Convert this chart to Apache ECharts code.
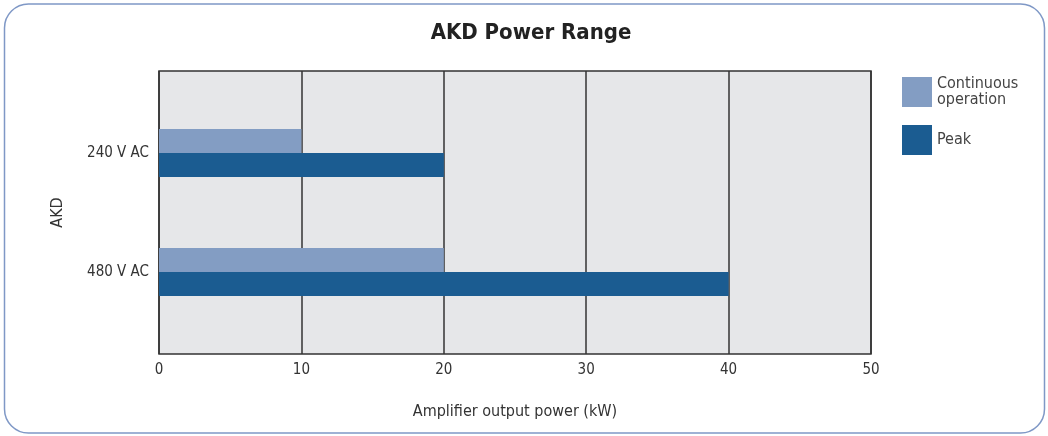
<!DOCTYPE html>
<html><head><meta charset="utf-8">
<script src="https://cdn.jsdelivr.net/npm/echarts@6/dist/echarts.min.js"></script>
<style>html,body{margin:0;padding:0;background:#fff}#c{width:1048px;height:436px}</style>
</head><body><div id="c"></div>
<script>
var categories = ['240 V AC', '480 V AC'];
var continuousValues = [10, 20];
var peakValues = [20, 40];
var xTicks = [0, 10, 20, 30, 40, 50];
var seriesNames = ['Continuous operation', 'Peak'];

var FONT = "'Liberation Sans Narrow', 'DejaVu Sans Condensed', 'Roboto', sans-serif";
var chart = echarts.init(document.getElementById('c'), null, {renderer: 'canvas'});
chart.setOption({
  animation: false,
  textStyle: {fontFamily: FONT},
  title: {
    text: 'AKD Power Range', left: 526, top: 17, textAlign: 'center',
    textStyle: {fontSize: 22, fontWeight: 'bold', color: '#222', fontFamily: FONT}
  },
  graphic: [{
    type: 'rect', z: -10, silent: true,
    shape: {x: 4.5, y: 4, width: 1040, height: 429, r: 24},
    style: {fill: 'none', stroke: '#7f98c6', lineWidth: 1.5}
  }],
  legend: {
    orient: 'vertical', left: 897, top: 71, itemWidth: 30, itemHeight: 30, itemGap: 17,
    icon: 'rect',
    data: seriesNames,
    formatter: function (n) { return n === 'Continuous operation' ? 'Continuous\noperation' : n; },
    textStyle: {fontSize: 16, color: '#444', fontFamily: FONT, lineHeight: 16}
  },
  grid: [
    {left: 159, right: 177, top: 71, bottom: 82, show: true, backgroundColor: '#e6e7e9', borderColor: '#333', borderWidth: 1.5},
    {left: 159, right: 177, top: 93.5, bottom: 104.5}
  ],
  xAxis: [{
    gridIndex: 0, type: 'value', min: xTicks[0], max: xTicks[xTicks.length - 1], interval: 10,
    axisLine: {show: false}, axisTick: {show: false},
    splitLine: {show: true, lineStyle: {color: '#333', width: 1.5}},
    axisLabel: {fontSize: 15, color: '#333', margin: 9},
    name: 'Amplifier output power (kW)', nameLocation: 'middle', nameGap: 50,
    nameTextStyle: {fontSize: 16, color: '#333'}
  }, {
    gridIndex: 1, type: 'value', min: 0, max: 50, show: false
  }],
  yAxis: [{
    gridIndex: 0, type: 'value', show: false
  }, {
    gridIndex: 1, type: 'category', data: categories, inverse: true,
    axisLine: {show: false}, axisTick: {show: false},
    axisLabel: {fontSize: 15, color: '#333', margin: 10},
    name: 'AKD', nameLocation: 'middle', nameGap: 93,
    nameTextStyle: {fontSize: 16, color: '#333'}
  }],
  series: [{
    name: seriesNames[0], type: 'bar', xAxisIndex: 1, yAxisIndex: 1,
    data: continuousValues, barWidth: 24, barGap: '0%',
    itemStyle: {color: '#839dc3'}
  }, {
    name: seriesNames[1], type: 'bar', xAxisIndex: 1, yAxisIndex: 1,
    data: peakValues, barWidth: 24, barGap: '0%',
    itemStyle: {color: '#1b5c91'}
  }]
});
</script></body></html>
